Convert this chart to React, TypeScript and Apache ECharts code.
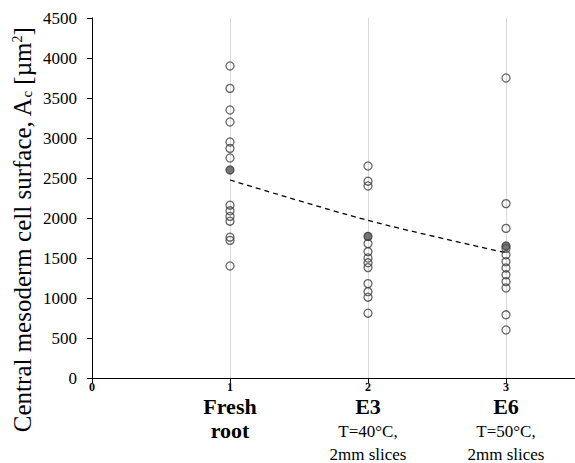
import React, { useEffect, useRef } from 'react';
import * as echarts from 'echarts';

// Category labels (bold name lines and regular note lines)
const catNames: string[][] = [['Fresh', 'root'], ['E3'], ['E6']];
const catNotes: string[][] = [[], ['T=40°C,', '2mm slices'], ['T=50°C,', '2mm slices']];

// Individual measurements per group (x = 1, 2, 3)
const freshRoot = [3900, 3620, 3350, 3200, 2950, 2870, 2750, 2160, 2090, 2020, 1960, 1760, 1720, 1400];
const e3 = [2650, 2460, 2400, 1680, 1580, 1500, 1440, 1380, 1180, 1080, 1010, 810];
const e6 = [3750, 2180, 1870, 1620, 1540, 1455, 1375, 1290, 1205, 1125, 790, 600];

// Group means (filled markers) and trend line values
const means = [2600, 1770, 1650];
const trend = [2475, 1970, 1565];

const FONT = 'Liberation Serif';

export default function App() {
  const ref = useRef<HTMLDivElement>(null);

  useEffect(() => {
    document.body.style.margin = '0';
    if (!ref.current) return;
    const chart = echarts.init(ref.current, null, { renderer: 'svg' });

    const groups = [freshRoot, e3, e6];
    const pts: number[][] = [];
    groups.forEach((g, i) => g.forEach((v) => pts.push([i + 1, v])));

    const richLabel = (v: number) => {
      const i = Math.round(v) - 1;
      if (Math.abs(v - Math.round(v)) > 1e-6 || i < 0 || i > 2) return '';
      const lines = catNames[i]
        .map((s) => `{b|${s}}`)
        .concat(catNotes[i].map((s, k) => (k === 0 ? `{r1|${s}}` : `{r|${s}}`)));
      return lines.join('\n');
    };

    chart.setOption({
      animation: false,
      textStyle: { fontFamily: FONT },
      grid: { left: 92, right: 0, top: 18, bottom: 85, containLabel: false },
      xAxis: [
        {
          type: 'value',
          min: 0,
          max: 3.5,
          interval: 1,
          position: 'bottom',
          axisLine: { show: true, lineStyle: { color: '#000', width: 1 } },
          axisTick: { show: true, length: 5, lineStyle: { color: '#000' } },
          splitLine: { show: true, lineStyle: { color: '#d9d9d9', width: 1 } },
          axisLabel: {
            margin: 3,
            showMaxLabel: false,
            formatter: (v: number) =>
              Math.abs(v - Math.round(v)) < 1e-6 && v <= 3 ? `{n|${v}}` : '',
            rich: {
              n: { fontFamily: FONT, fontWeight: 'bold', fontSize: 12, lineHeight: 11, color: '#000' },
            },
          },
        },
        {
          type: 'value',
          min: 0,
          max: 3.5,
          interval: 1,
          position: 'bottom',
          offset: 0,
          axisLine: { show: false },
          axisTick: { show: false },
          splitLine: { show: false },
          axisLabel: {
            margin: 16,
            showMaxLabel: false,
            formatter: richLabel,
            rich: {
              b: { fontFamily: FONT, fontWeight: 'bold', fontSize: 22, lineHeight: 24, color: '#000', align: 'center' },
              r1: { fontFamily: FONT, fontSize: 17, lineHeight: 26, color: '#000', align: 'center' },
              r: { fontFamily: FONT, fontSize: 17, lineHeight: 20, color: '#000', align: 'center' },
            },
          },
        },
      ],
      yAxis: {
        type: 'value',
        min: 0,
        max: 4500,
        interval: 500,
        axisLine: { show: true, lineStyle: { color: '#000', width: 1 } },
        axisTick: { show: true, length: 5, inside: false, lineStyle: { color: '#000' } },
        splitLine: { show: false },
        axisLabel: {
          margin: 15,
          formatter: (v: number) => `{t|${v}}`,
          rich: {
            t: { fontFamily: FONT, fontSize: 17, color: '#000' },
          },
        },
      },
      graphic: [
        {
          type: 'text',
          x: 22,
          y: 230,
          rotation: Math.PI / 2,
          style: {
            text: 'Central mesoderm cell surface, A{sub|c} [µm{sup|2}]',
            fontFamily: FONT,
            fontSize: 25,
            fill: '#000',
            align: 'center',
            verticalAlign: 'middle',
            rich: {
              sub: { fontFamily: FONT, fontSize: 15, fill: '#000', padding: [9, 0, 0, 0] },
              sup: { fontFamily: FONT, fontSize: 14, fill: '#000', padding: [0, 0, 10, 0] },
            },
          },
        },
      ],
      series: [
        {
          type: 'line',
          xAxisIndex: 0,
          data: trend.map((v, i) => [i + 1, v]),
          symbol: 'none',
          smooth: 0.3,
          lineStyle: { color: '#000', width: 1.3, type: [5, 4] },
          z: 1,
        },
        {
          type: 'scatter',
          xAxisIndex: 0,
          data: pts,
          symbol: 'circle',
          symbolSize: 8,
          itemStyle: { color: 'rgba(255,255,255,0)', borderColor: '#404040', borderWidth: 1.3 },
          z: 2,
        },
        {
          type: 'scatter',
          xAxisIndex: 0,
          data: means.map((v, i) => [i + 1, v]),
          symbol: 'circle',
          symbolSize: 8,
          itemStyle: { color: '#555', borderColor: '#333', borderWidth: 1.3 },
          z: 3,
        },
      ],
    });

    return () => chart.dispose();
  }, []);

  return <div ref={ref} style={{ width: 575, height: 463 }} />;
}
